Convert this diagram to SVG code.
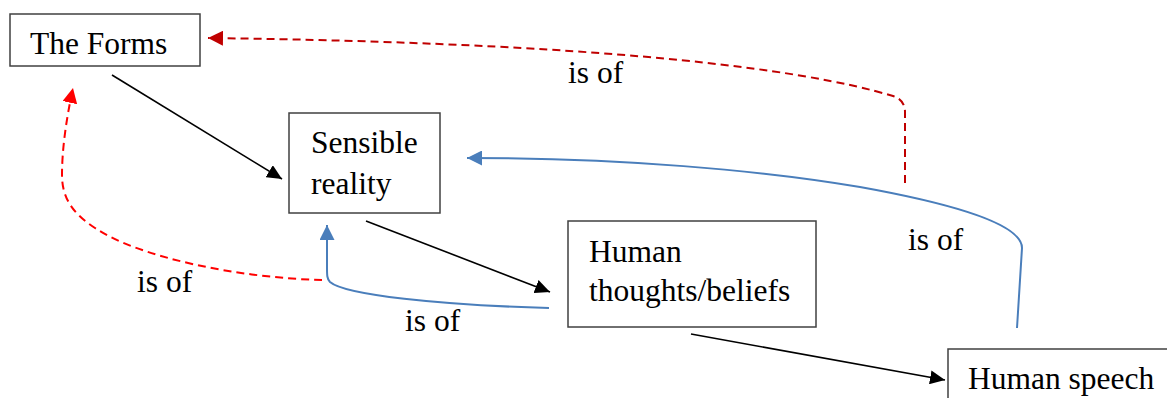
<svg xmlns="http://www.w3.org/2000/svg" width="1167" height="398" viewBox="0 0 1167 398">
<style>
.box{fill:#fff;stroke:#404040;stroke-width:1.5}
.t{font-family:'Liberation Serif','Times New Roman',Tinos,'DejaVu Serif','Noto Serif',serif;font-size:31.5px;fill:#000}
.blk{fill:none;stroke:#000;stroke-width:1.6}
.blu{fill:none;stroke:#4A7EBB;stroke-width:2}
.dred{fill:none;stroke:#C00000;stroke-width:2;stroke-dasharray:8 5}
.red{fill:none;stroke:#FF0000;stroke-width:2;stroke-dasharray:8 5}
</style>
<defs>
<marker id="aBlk" markerUnits="userSpaceOnUse" markerWidth="16" markerHeight="14" refX="15" refY="7" orient="auto"><path d="M0,0 L15,7 L0,14 z" fill="#000"/></marker>
<marker id="aBlu" markerUnits="userSpaceOnUse" markerWidth="16" markerHeight="15" refX="15" refY="7.5" orient="auto"><path d="M0,0 L15,7.5 L0,15 z" fill="#4A7EBB"/></marker>
<marker id="aDred" markerUnits="userSpaceOnUse" markerWidth="16" markerHeight="15" refX="15" refY="7.5" orient="auto"><path d="M0,0 L15,7.5 L0,15 z" fill="#C00000"/></marker>
<marker id="aRed" markerUnits="userSpaceOnUse" markerWidth="16" markerHeight="15" refX="15" refY="7.5" orient="auto"><path d="M0,0 L15,7.5 L0,15 z" fill="#FF0000"/></marker>
</defs>
<g id="connectors">
<path class="blk" d="M112,75 L282,179" marker-end="url(#aBlk)"/>
<path class="blk" d="M366,221 L550,292" marker-end="url(#aBlk)"/>
<path class="blk" d="M691,334 L945,380" marker-end="url(#aBlk)"/>
<path class="blu" d="M549,308 C440,305 345,295 330,282 C327,279 327,275 327,268 L327,225" marker-end="url(#aBlu)"/>
<path class="blu" d="M1017,328 L1022,248 C1022,225 960,205 860,187 C760,170 620,158 467,158" marker-end="url(#aBlu)"/>
<path class="dred" d="M905,183 L905,112 Q905,100 893,96 C800,68 600,43 208,38" marker-end="url(#aDred)"/>
<path class="red" d="M322,280 C240,278 140,258 95,228 C70,212 62,195 62,175 C62,150 66,120 73,88" marker-end="url(#aRed)"/>
<text class="t" x="568" y="83" font-family="Liberation Serif, serif">is of</text>
<text class="t" x="137" y="292" font-family="Liberation Serif, serif">is of</text>
<text class="t" x="405" y="331" font-family="Liberation Serif, serif">is of</text>
<text class="t" x="908" y="250" font-family="Liberation Serif, serif">is of</text>
</g>
<g id="forms"><rect class="box" x="10" y="14" width="190" height="52"/><text class="t" x="30" y="54">The Forms</text></g>
<g id="sensible"><rect class="box" x="289" y="113" width="151" height="100"/><text class="t" x="311" y="153">Sensible</text><text class="t" x="311" y="194">reality</text></g>
<g id="thoughts"><rect class="box" x="568" y="221" width="248" height="106"/><text class="t" x="589" y="262">Human</text><text class="t" x="589" y="301">thoughts/beliefs</text></g>
<g id="speech"><rect class="box" x="948" y="349" width="240" height="80"/><text class="t" x="968" y="389">Human speech</text></g>
</svg>
